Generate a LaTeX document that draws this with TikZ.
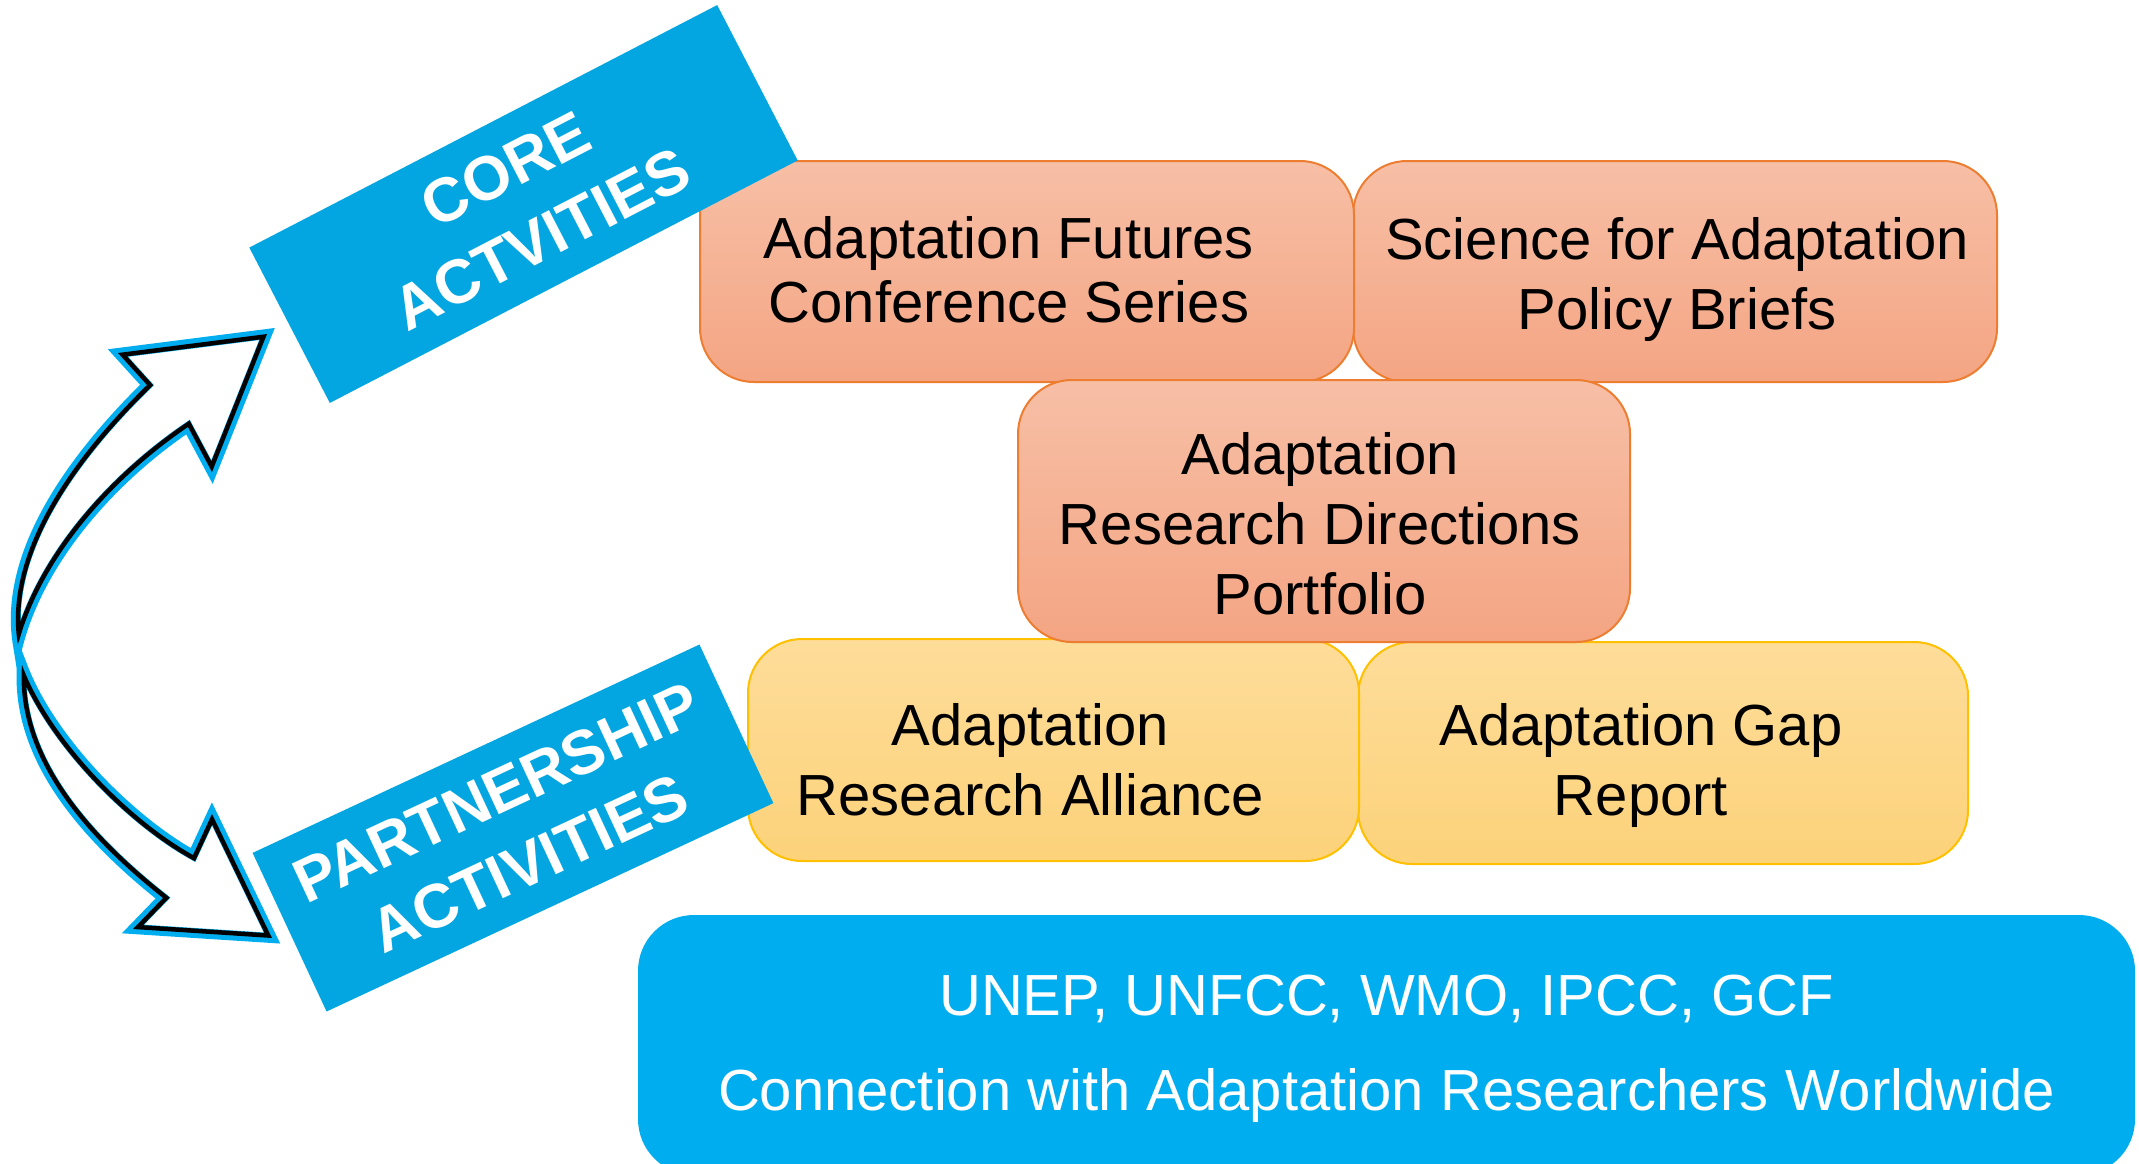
\documentclass[tikz,border=0pt]{standalone}
\usepackage{fontspec}
\setmainfont{Liberation Sans}
\usetikzlibrary{positioning}

\definecolor{bannerblue}{RGB}{3,166,224}
\definecolor{netblue}{RGB}{0,173,238}
\definecolor{rimblue}{RGB}{0,174,239}
\definecolor{salmonline}{RGB}{237,125,49}
\definecolor{salmontop}{RGB}{247,191,166}
\definecolor{salmonbot}{RGB}{244,165,131}
\definecolor{goldline}{RGB}{255,192,0}
\definecolor{goldtop}{RGB}{254,221,154}
\definecolor{goldbot}{RGB}{252,210,122}

\newcommand{\uparrowpath}{(18,645) .. controls (5,570) and (50,480) .. (147,385) -- (118,353) -- (267,334) -- (212,472) -- (188,427) .. controls (110,480) and (40,560) .. cycle}
\newcommand{\downarrowpath}{(22,665) .. controls (15,760) and (90,840) .. (163,898) -- (133,929) -- (272,938) -- (212,814) -- (193,855) .. controls (130,820) and (50,740) .. cycle}

\begin{document}
\begin{tikzpicture}[x=0.5pt, y=-0.5pt,
    corebox/.style={rectangle, rounded corners=27pt, draw=salmonline, line width=1pt,
        top color=salmontop, bottom color=salmonbot},
    partbox/.style={rectangle, rounded corners=27pt, draw=goldline, line width=1pt,
        top color=goldtop, bottom color=goldbot},
    boxtext/.style={align=center, inner sep=0pt, font=\fontsize{29}{35}\selectfont},
    netbox/.style={rectangle, rounded corners=28pt, fill=netblue},
    nettext/.style={align=center, inner sep=0pt, text=white, font=\fontsize{29}{47.5}\selectfont},
    banner/.style={rectangle, fill=bannerblue, text=white, align=center, inner sep=0pt,
        minimum height=87.5pt, font=\bfseries\fontsize{31}{39}\selectfont},
    arrowrim/.style={draw=rimblue, fill=white, line width=5pt},
    arrowline/.style={draw=black, line width=4.5pt}]

    \useasboundingbox (0,0) rectangle (2139,1163);

    \node[corebox, minimum width=322pt, minimum height=110.5pt,
        label={[boxtext, xshift=1pt, yshift=-4pt]center:{Science for Adaptation\\Policy Briefs}}] (sfa) at (1675,271.5) {};
    \node[corebox, minimum width=327pt, minimum height=110.5pt,
        label={[boxtext, font=\fontsize{29}{32}\selectfont, xshift=-9pt, yshift=1pt]center:{Adaptation Futures\\Conference Series}}] (fut) at (1027,271.5) {};
    \node[partbox, minimum width=305pt, minimum height=111pt,
        label={[boxtext, xshift=-11pt, yshift=-6pt]center:{Adaptation Gap\\Report}}] (gap) at (1663,753) {};
    \node[partbox, minimum width=305.5pt, minimum height=111pt,
        label={[boxtext, xshift=-11.5pt, yshift=-5pt]center:{Adaptation\\Research Alliance}}] (alliance) at (1053.5,750) {};
    \node[corebox, minimum width=306pt, minimum height=131pt,
        label={[boxtext, xshift=-2pt, yshift=-6.5pt]center:{Adaptation\\Research Directions\\Portfolio}}] (ard) at (1324,511) {};
    \node[netbox, minimum width=748.5pt, minimum height=130pt,
        label={[nettext, yshift=-2pt]center:{UNEP, UNFCC, WMO, IPCC, GCF\\Connection with Adaptation Researchers Worldwide}}] (net) at (1386.5,1045) {};

    \node[banner, rotate=27.4, minimum width=263.5pt] (core) at (523.5,204) {CORE\\ACTVITIES};
    \node[banner, rotate=25, minimum width=246.5pt] (partner) at (513,828) {PARTNERSHIP\\ACTIVITIES};

    % curved block arrows
    \draw[arrowrim] \uparrowpath;
    \begin{scope}
        \clip \uparrowpath;
        \draw[arrowline] \uparrowpath;
    \end{scope}
    \draw[arrowrim] \downarrowpath;
    \begin{scope}
        \clip \downarrowpath;
        \draw[arrowline] \downarrowpath;
    \end{scope}
\end{tikzpicture}
\end{document}
